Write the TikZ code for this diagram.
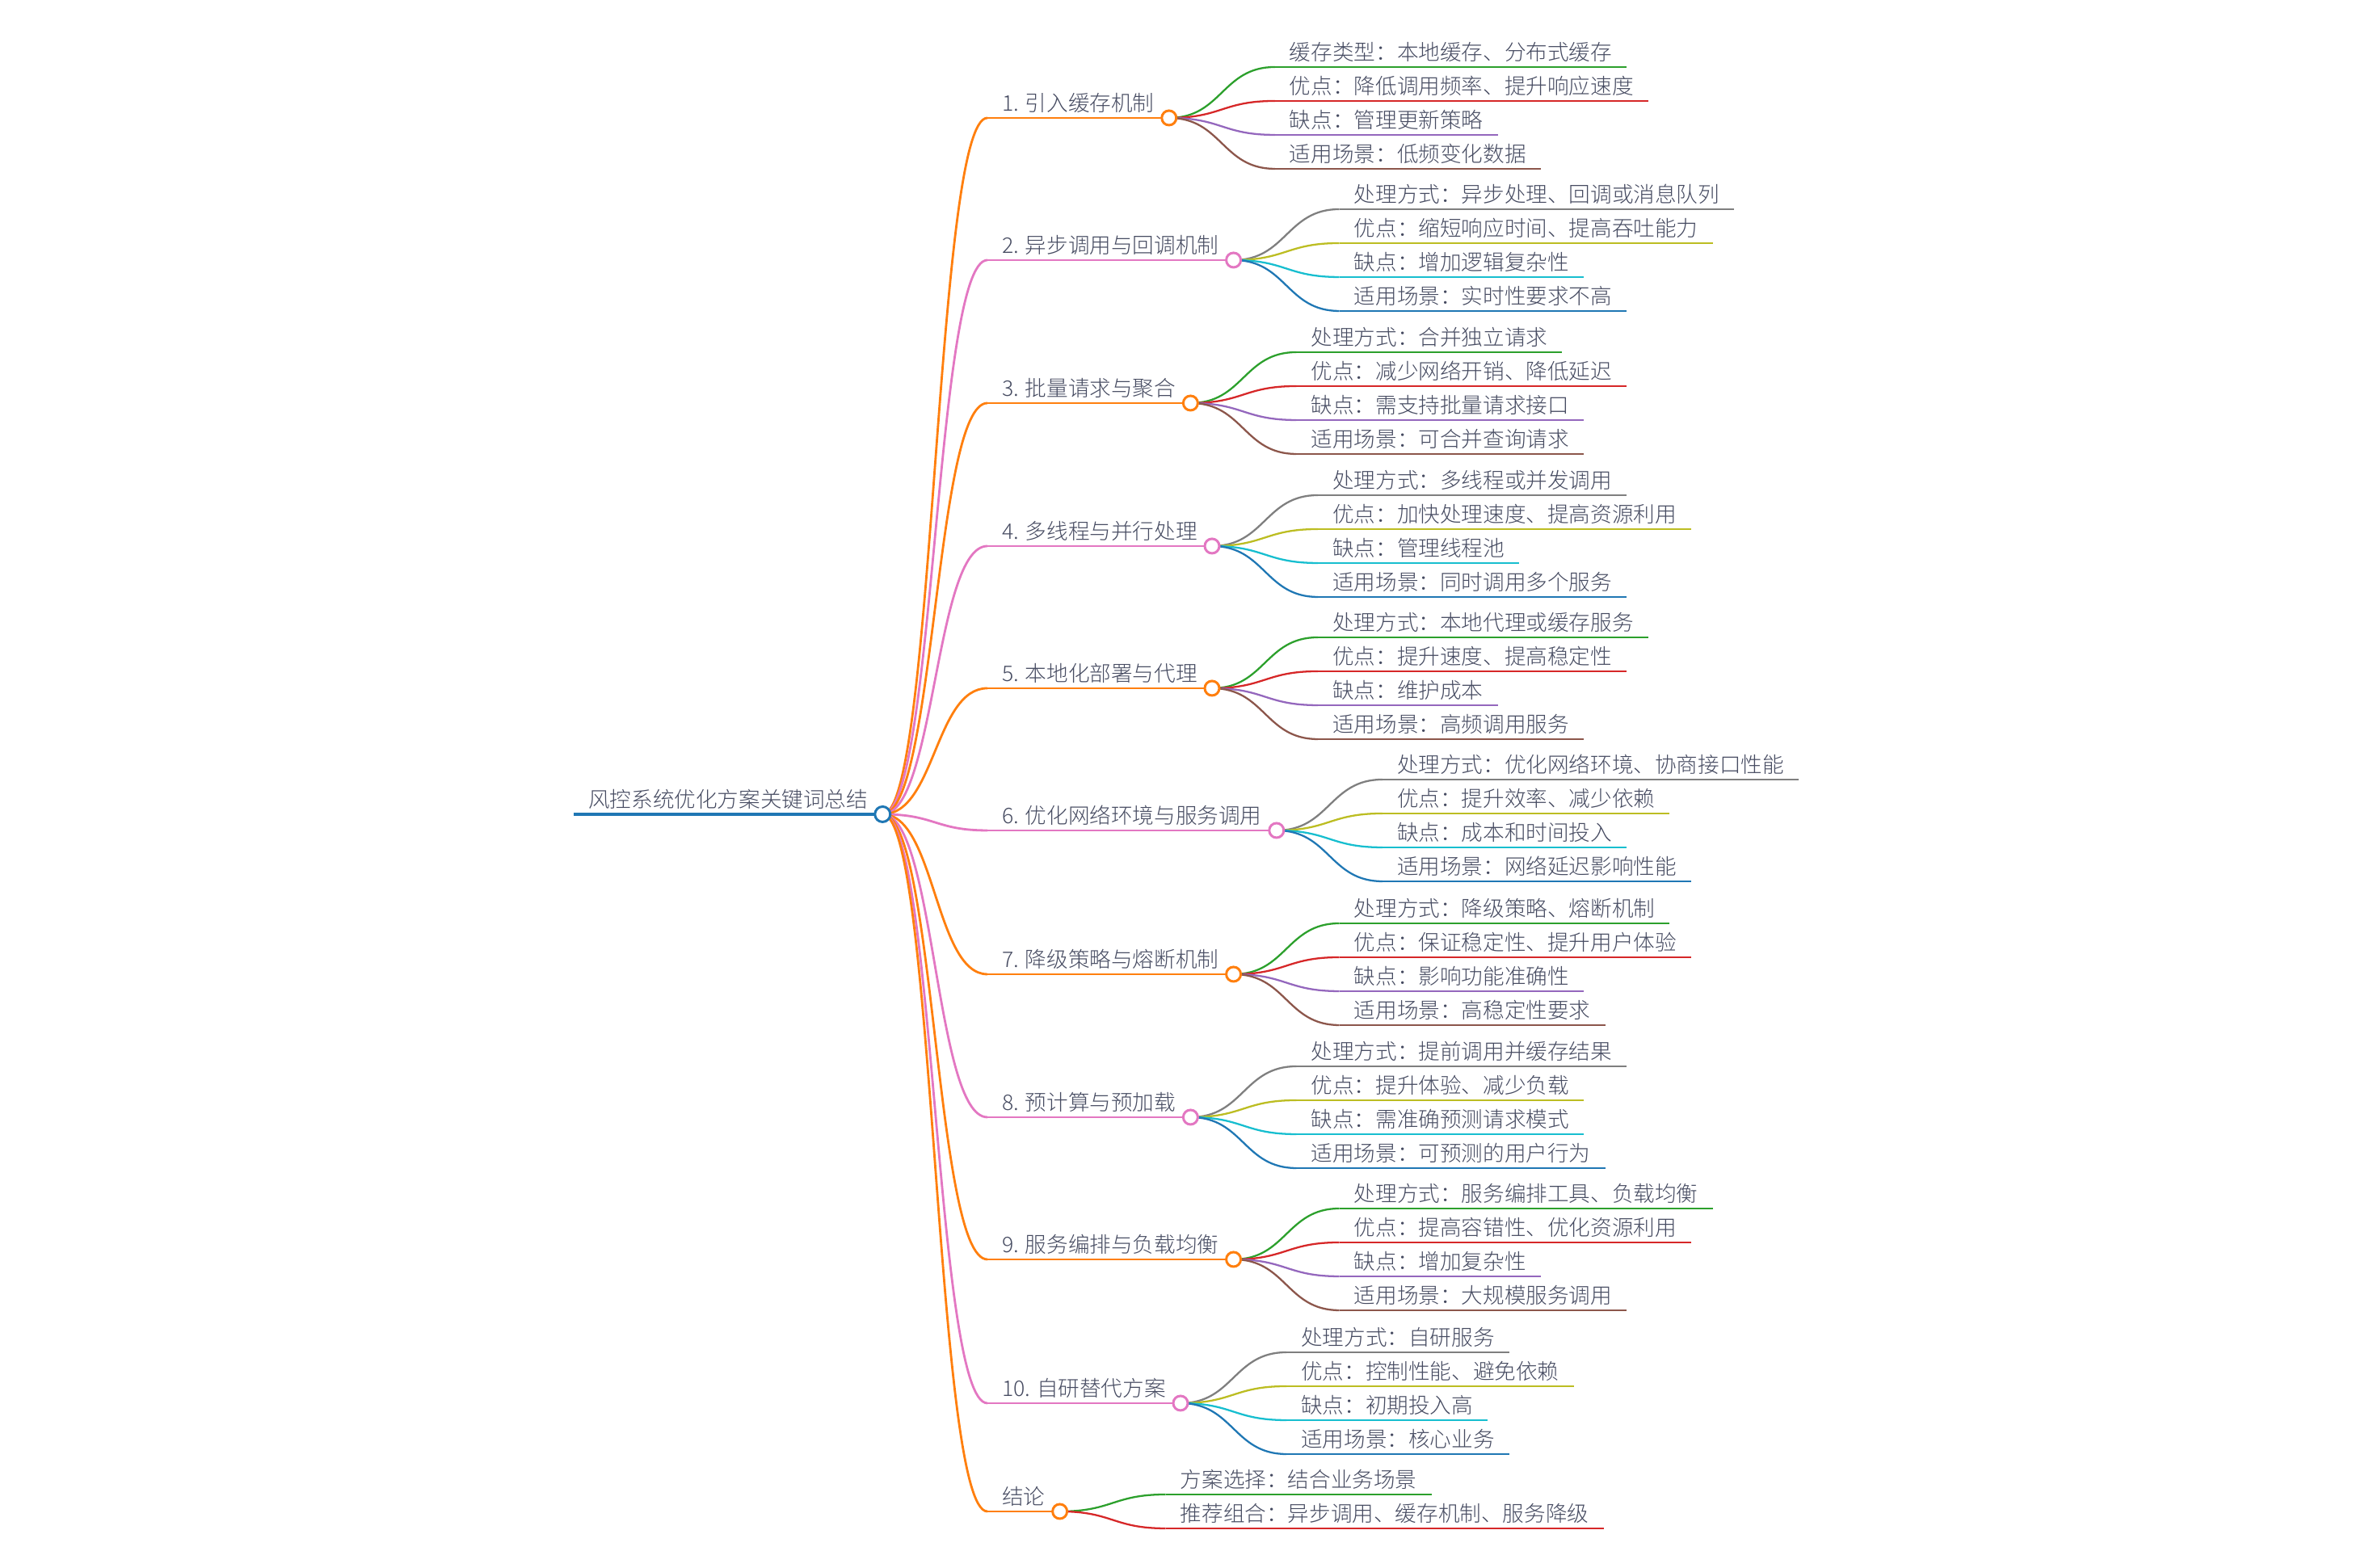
\documentclass[tikz,border=0pt]{standalone}
\usepackage{fontspec}
\setmainfont{Noto Sans CJK SC}[UprightFont=* Light]
\usetikzlibrary{calc}
\definecolor{mmtext}{RGB}{70,75,97}
\definecolor{mmblue}{RGB}{31,119,180}
\definecolor{mmorange}{RGB}{255,127,14}
\definecolor{mmgreen}{RGB}{44,160,44}
\definecolor{mmred}{RGB}{214,39,40}
\definecolor{mmpurple}{RGB}{148,103,189}
\definecolor{mmbrown}{RGB}{140,86,75}
\definecolor{mmpink}{RGB}{227,119,194}
\definecolor{mmgray}{RGB}{127,127,127}
\definecolor{mmolive}{RGB}{188,189,34}
\definecolor{mmcyan}{RGB}{23,190,207}
\tikzset{
  mmfont/.style={font=\fontsize{7.57pt}{9pt}\selectfont, text=mmtext},
  rootnode/.style={mmfont, anchor=south west, inner xsep=0.175cm, inner ysep=0.075cm, text depth=0pt},
  branch/.style={rootnode},
  leaf/.style={rootnode},
  rootline/.style={line width=1.15pt, draw=mmblue},
  branchline/.style={line width=0.8pt},
  leafline/.style={line width=0.65pt},
  dot/.style={line width=0.85pt, fill=white},
  warm1/.style={draw=mmgreen}, warm2/.style={draw=mmred},
  warm3/.style={draw=mmpurple}, warm4/.style={draw=mmbrown},
  cool1/.style={draw=mmgray}, cool2/.style={draw=mmolive},
  cool3/.style={draw=mmcyan}, cool4/.style={draw=mmblue}
}
\def\branchx{12.22}
\def\leafdx{1.31}
\def\leafout{0.63}
\def\leafin{0.21}
\newcommand{\mmlink}[3]{%
  % #1 from, #2 to, #3 line style
  \path (#1) -- (#2) coordinate[pos=0.5] (mid);
  \draw[#3] (#1) .. controls (mid |- #1) and (mid |- #2) .. (#2);
}
\newcommand{\branchnode}[4]{%
  % #1 name, #2 y, #3 colour, #4 text
  \node[branch] (#1) at (\branchx,#2) {#4};
  \draw[branchline,draw=#3] (#1.south west) -- (#1.south east);
  \mmlink{root.south east}{#1.south west}{branchline,draw=#3}
}
\newcommand{\leafnode}[5]{%
  % #1 name, #2 parent, #3 dy, #4 colour style, #5 text
  \node[leaf] (#1) at ($(#2.south east)+(\leafdx,#3)$) {#5};
  \draw[leafline,#4] (#1.south west) -- (#1.south east);
  \mmlink{#2.south east}{#1.south west}{leafline,#4}
}
\newcommand{\leafgroup}[6]{%
  % #1 parent, #2 colour set (warm/cool), #3-#6 texts
  \leafnode{#1a}{#1}{\leafout}{#21}{#3}
  \leafnode{#1b}{#1}{\leafin}{#22}{#4}
  \leafnode{#1c}{#1}{-\leafin}{#23}{#5}
  \leafnode{#1d}{#1}{-\leafout}{#24}{#6}
}

\begin{document}
\begin{tikzpicture}
  \useasboundingbox (0,0) rectangle (29.43,19.41);
  % root
  \node[rootnode] (root) at (7.10,9.33) {风控系统优化方案关键词总结};
  \draw[rootline] (root.south west) -- (root.south east);

  % 1. cache
  \branchnode{b1}{17.95}{mmorange}{1. 引入缓存机制}
  \leafgroup{b1}{warm}{缓存类型：本地缓存、分布式缓存}{优点：降低调用频率、提升响应速度}{缺点：管理更新策略}{适用场景：低频变化数据}

  % 2. async
  \branchnode{b2}{16.19}{mmpink}{2. 异步调用与回调机制}
  \leafgroup{b2}{cool}{处理方式：异步处理、回调或消息队列}{优点：缩短响应时间、提高吞吐能力}{缺点：增加逻辑复杂性}{适用场景：实时性要求不高}

  % 3. batch
  \branchnode{b3}{14.42}{mmorange}{3. 批量请求与聚合}
  \leafgroup{b3}{warm}{处理方式：合并独立请求}{优点：减少网络开销、降低延迟}{缺点：需支持批量请求接口}{适用场景：可合并查询请求}

  % 4. threads
  \branchnode{b4}{12.65}{mmpink}{4. 多线程与并行处理}
  \leafgroup{b4}{cool}{处理方式：多线程或并发调用}{优点：加快处理速度、提高资源利用}{缺点：管理线程池}{适用场景：同时调用多个服务}

  % 5. local
  \branchnode{b5}{10.89}{mmorange}{5. 本地化部署与代理}
  \leafgroup{b5}{warm}{处理方式：本地代理或缓存服务}{优点：提升速度、提高稳定性}{缺点：维护成本}{适用场景：高频调用服务}

  % 6. network
  \branchnode{b6}{9.13}{mmpink}{6. 优化网络环境与服务调用}
  \leafgroup{b6}{cool}{处理方式：优化网络环境、协商接口性能}{优点：提升效率、减少依赖}{缺点：成本和时间投入}{适用场景：网络延迟影响性能}

  % 7. fallback
  \branchnode{b7}{7.35}{mmorange}{7. 降级策略与熔断机制}
  \leafgroup{b7}{warm}{处理方式：降级策略、熔断机制}{优点：保证稳定性、提升用户体验}{缺点：影响功能准确性}{适用场景：高稳定性要求}

  % 8. preload
  \branchnode{b8}{5.58}{mmpink}{8. 预计算与预加载}
  \leafgroup{b8}{cool}{处理方式：提前调用并缓存结果}{优点：提升体验、减少负载}{缺点：需准确预测请求模式}{适用场景：可预测的用户行为}

  % 9. orchestration
  \branchnode{b9}{3.82}{mmorange}{9. 服务编排与负载均衡}
  \leafgroup{b9}{warm}{处理方式：服务编排工具、负载均衡}{优点：提高容错性、优化资源利用}{缺点：增加复杂性}{适用场景：大规模服务调用}

  % 10. in-house
  \branchnode{b10}{2.04}{mmpink}{10. 自研替代方案}
  \leafgroup{b10}{cool}{处理方式：自研服务}{优点：控制性能、避免依赖}{缺点：初期投入高}{适用场景：核心业务}

  % conclusion
  \branchnode{b11}{0.70}{mmorange}{结论}
  \leafnode{b11a}{b11}{\leafin}{warm1}{方案选择：结合业务场景}
  \leafnode{b11b}{b11}{-\leafin}{warm2}{推荐组合：异步调用、缓存机制、服务降级}

  % circles on top
  \draw[dot,draw=mmblue] (root.south east) circle (0.095);
  \foreach \n/\c in {b1/mmorange,b2/mmpink,b3/mmorange,b4/mmpink,b5/mmorange,b6/mmpink,b7/mmorange,b8/mmpink,b9/mmorange,b10/mmpink,b11/mmorange}
    \draw[dot,draw=\c] (\n.south east) circle (0.09);
\end{tikzpicture}
\end{document}
